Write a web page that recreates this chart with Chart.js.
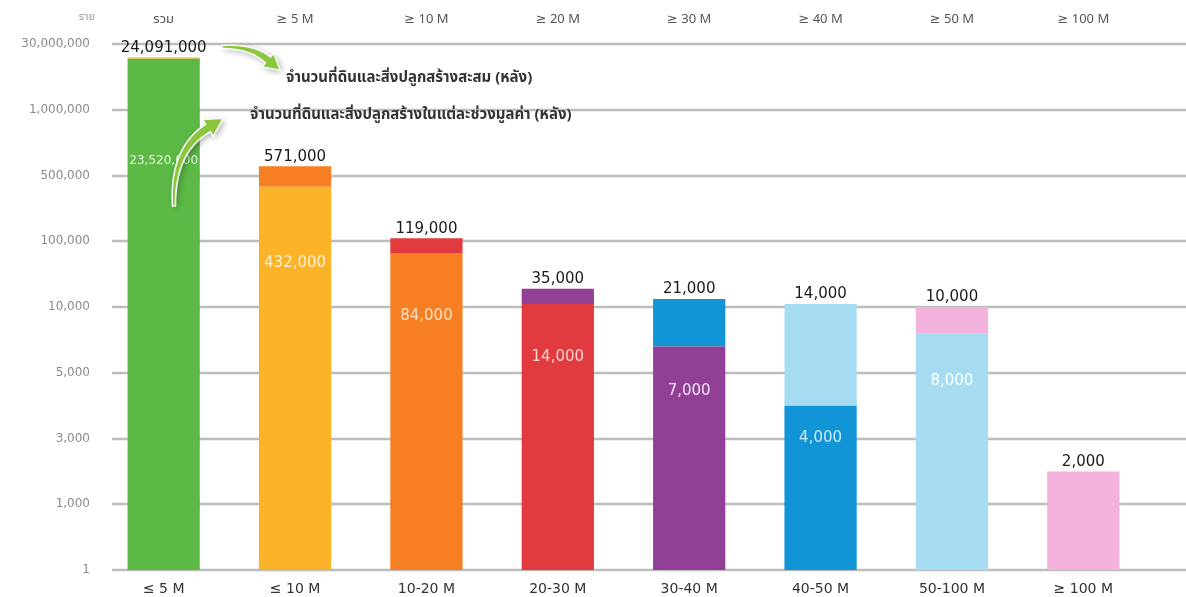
<!DOCTYPE html>
<html>
<head>
<meta charset="utf-8">
<script src="https://cdn.jsdelivr.net/npm/chart.js@4.4.1/dist/chart.umd.min.js"></script>
<style>
  html, body { margin: 0; padding: 0; background: #fff; }
</style>
</head>
<body>
<canvas id="myChart" width="1186" height="597"></canvas>
<script>
const ranges = ['≤ 5 M', '≤ 10 M', '10-20 M', '20-30 M', '30-40 M', '40-50 M', '50-100 M', '≥ 100 M']
const cumulativeLabels = ['รวม', '≥ 5 M', '≥ 10 M', '≥ 20 M', '≥ 30 M', '≥ 40 M', '≥ 50 M', '≥ 100 M']
const inRange = [23520000, 432000, 84000, 14000, 7000, 4000, 8000, 2000]
const cumulative = [24091000, 571000, 119000, 35000, 21000, 14000, 10000, 2000]
const yTicks = [1, 1000, 3000, 5000, 10000, 100000, 500000, 1000000, 30000000]

const colors = ['#5cb946', '#fbb32a', '#f57f22', '#e13b3f', '#923f96', '#1195d6', '#a6dcf1', '#f3b3dc']
const topColors = colors.slice(1).concat(['#f3b3dc'])
const innerText = ['#e6f5df', '#fff1cf', '#fde2c4', '#fbd2d2', '#f3e4f6', '#cdebf8', '#ffffff', '#ffffff']

const numFont = "'DejaVu Sans', sans-serif"
const thaiFont = "'Noto Sans Thai', 'Noto Sans', Tahoma, 'DejaVu Sans', sans-serif"

// y axis: ticks spread evenly, values interpolated between neighbouring ticks
function knotPos(v) {
  if (v <= yTicks[0]) return 0
  for (let i = 1; i < yTicks.length; i++) {
    if (v <= yTicks[i]) return i - 1 + (v - yTicks[i - 1]) / (yTicks[i] - yTicks[i - 1])
  }
  return yTicks.length - 1
}

class KnotScale extends Chart.LinearScale {
  buildTicks() {
    return yTicks.map(v => ({ value: v }))
  }
  getPixelForValue(value) {
    return this.getPixelForDecimal(knotPos(value) / (yTicks.length - 1))
  }
  getValueForPixel(pixel) {
    const p = this.getDecimalForPixel(pixel) * (yTicks.length - 1)
    const i = Math.max(0, Math.min(yTicks.length - 2, Math.floor(p)))
    return yTicks[i] + (p - i) * (yTicks[i + 1] - yTicks[i])
  }
}
KnotScale.id = 'knot'
KnotScale.defaults = Chart.LinearScale.defaults
Chart.register(KnotScale)

function drawArrow(ctx, p0, c, p1, w0, w1, headLen, headW) {
  const pts = []
  const n = 30
  for (let i = 0; i <= n; i++) {
    const t = i / n
    const x = (1 - t) * (1 - t) * p0[0] + 2 * (1 - t) * t * c[0] + t * t * p1[0]
    const y = (1 - t) * (1 - t) * p0[1] + 2 * (1 - t) * t * c[1] + t * t * p1[1]
    pts.push([x, y])
  }
  const left = [], right = []
  for (let i = 0; i <= n; i++) {
    const a = pts[Math.max(0, i - 1)], b = pts[Math.min(n, i + 1)]
    let dx = b[0] - a[0], dy = b[1] - a[1]
    const len = Math.hypot(dx, dy)
    dx /= len; dy /= len
    const w = (w0 + (w1 - w0) * i / n) / 2
    left.push([pts[i][0] - dy * w, pts[i][1] + dx * w])
    right.push([pts[i][0] + dy * w, pts[i][1] - dx * w])
  }
  const end = pts[n], prev = pts[n - 1]
  let dx = end[0] - prev[0], dy = end[1] - prev[1]
  const len = Math.hypot(dx, dy)
  dx /= len; dy /= len
  const tip = [end[0] + dx * headLen, end[1] + dy * headLen]
  ctx.beginPath()
  ctx.moveTo(left[0][0], left[0][1])
  left.forEach(p => ctx.lineTo(p[0], p[1]))
  ctx.lineTo(end[0] - dy * headW / 2, end[1] + dx * headW / 2)
  ctx.lineTo(tip[0], tip[1])
  ctx.lineTo(end[0] + dy * headW / 2, end[1] - dx * headW / 2)
  for (let i = n; i >= 0; i--) ctx.lineTo(right[i][0], right[i][1])
  ctx.closePath()
  ctx.save()
  ctx.shadowColor = 'rgba(0,0,0,0.35)'
  ctx.shadowBlur = 6
  ctx.shadowOffsetX = 2
  ctx.shadowOffsetY = 2
  ctx.fillStyle = '#8cc63f'
  ctx.fill()
  ctx.restore()
  ctx.lineWidth = 1.5
  ctx.strokeStyle = '#ffffff'
  ctx.stroke()
}

const decorations = {
  id: 'decorations',
  beforeDatasetsDraw(chart) {
    const ctx = chart.ctx
    const y = chart.scales.y
    ctx.save()
    ctx.strokeStyle = '#bdbdbd'
    ctx.lineWidth = 2.5
    y.ticks.forEach((t, i) => {
      const py = Math.round(y.getPixelForTick(i))
      ctx.beginPath()
      ctx.moveTo(112, py)
      ctx.lineTo(chart.width, py)
      ctx.stroke()
    })
    ctx.fillStyle = '#999'
    ctx.font = '11px ' + thaiFont
    ctx.textAlign = 'right'
    ctx.textBaseline = 'middle'
    ctx.fillText('ราย', 95, 18)
    ctx.restore()
  },
  afterDatasetsDraw(chart) {
    const ctx = chart.ctx
    const x = chart.scales.x
    const y = chart.scales.y
    const bw = chart.getDatasetMeta(0).data[0].width
    ctx.save()
    ctx.textAlign = 'center'
    ranges.forEach((r, i) => {
      const cx = x.getPixelForValue(i)
      // totals above the bars
      ctx.fillStyle = '#1a1a1a'
      ctx.font = '15px ' + numFont
      ctx.textBaseline = 'bottom'
      ctx.fillText(cumulative[i].toLocaleString('en-US'), cx, y.getPixelForValue(cumulative[i]) - 2)
      // counts inside the lower part
      if (cumulative[i] > inRange[i]) {
        const top = y.getPixelForValue(inRange[i])
        const h = y.getPixelForValue(1) - top
        const txt = inRange[i].toLocaleString('en-US')
        let size = 15
        ctx.font = size + 'px ' + numFont
        const w = ctx.measureText(txt).width
        if (w > bw * 0.98) {
          size = Math.floor(size * bw * 0.98 / w)
          ctx.font = size + 'px ' + numFont
        }
        ctx.fillStyle = innerText[i]
        ctx.textBaseline = 'middle'
        ctx.fillText(txt, cx, top + Math.max(30, h * 0.2))
      }
    })
    drawArrow(ctx, [222, 47], [252, 46], [268, 60], 3, 8, 16, 18)
    drawArrow(ctx, [174, 206], [172, 150], [208, 128], 3, 9, 18, 20)
    ctx.fillStyle = '#333'
    ctx.font = 'bold 15px ' + thaiFont
    ctx.textAlign = 'left'
    ctx.textBaseline = 'middle'
    ctx.fillText('จำนวนที่ดินและสิ่งปลูกสร้างสะสม (หลัง)', 286, 79)
    ctx.fillText('จำนวนที่ดินและสิ่งปลูกสร้างในแต่ละช่วงมูลค่า (หลัง)', 250, 116)
    ctx.restore()
  }
}

const ctx = document.getElementById('myChart')

const myChart = new Chart(ctx, {
  type: 'bar',
  data: {
    labels: ranges,
    datasets: [
      {
        label: 'ในแต่ละช่วงมูลค่า',
        data: inRange,
        backgroundColor: colors
      },
      {
        label: 'สะสม',
        data: inRange.map((v, i) => [v, cumulative[i]]),
        backgroundColor: topColors
      }
    ]
  },
  options: {
    responsive: false,
    animation: false,
    layout: { padding: { right: 37 } },
    datasets: {
      bar: { grouped: false, barPercentage: 0.55, categoryPercentage: 1 }
    },
    plugins: {
      legend: { display: false },
      tooltip: { enabled: false }
    },
    scales: {
      x: {
        position: 'bottom',
        grid: { display: false },
        border: { display: false },
        ticks: {
          color: '#333',
          padding: 3,
          font: { family: numFont, size: 14 },
          maxRotation: 0
        },
        afterFit(s) { s.height = 27 }
      },
      x2: {
        type: 'category',
        position: 'top',
        labels: cumulativeLabels,
        grid: { display: false },
        border: { display: false },
        ticks: {
          color: '#555',
          padding: 8,
          font: { family: thaiFont, size: 13 },
          maxRotation: 0
        },
        afterFit(s) { s.height = 44 }
      },
      y: {
        type: 'knot',
        min: 1,
        max: 30000000,
        grid: { display: false },
        border: { display: false },
        ticks: {
          color: '#8a8a8a',
          padding: 0,
          font: { family: numFont, size: 12 },
          callback: v => v.toLocaleString('en-US')
        },
        afterFit(s) { s.width = 98 }
      }
    }
  },
  plugins: [decorations]
})
</script>
</body>
</html>
